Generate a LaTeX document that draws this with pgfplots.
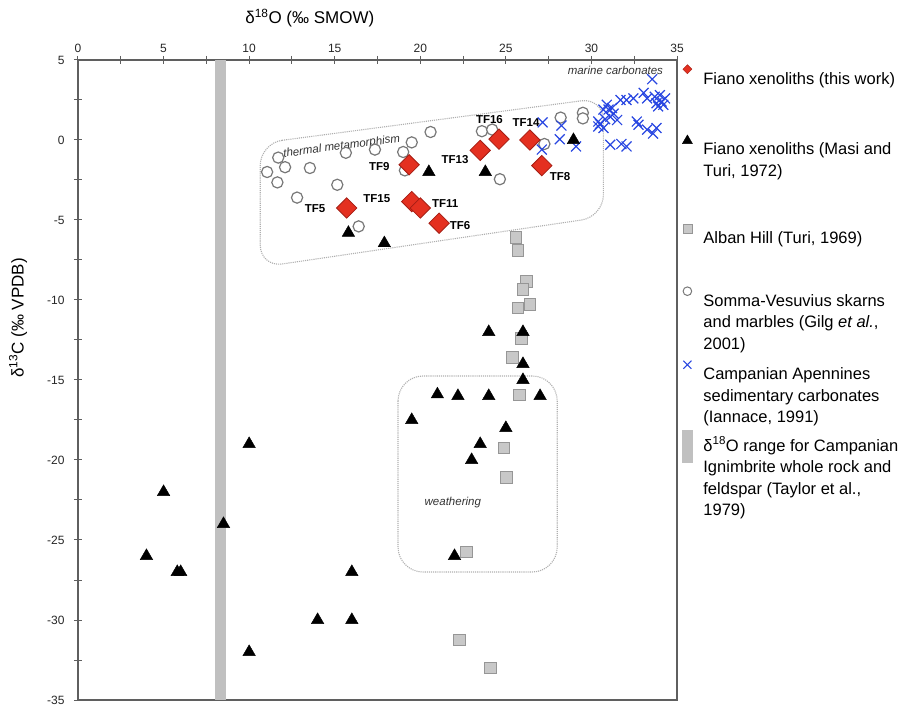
\documentclass[border=0pt]{standalone}
\usepackage{fontspec}
\setmainfont{Liberation Sans}
\usepackage{pgfplots}
\pgfplotsset{compat=1.18}

\definecolor{axgray}{RGB}{95,95,95}
\definecolor{bandgray}{RGB}{192,192,192}
\definecolor{sqfill}{RGB}{200,200,200}
\definecolor{sqdraw}{RGB}{150,150,150}
\definecolor{circdraw}{RGB}{120,120,120}
\definecolor{crossblue}{RGB}{40,70,225}
\definecolor{dred}{RGB}{228,48,32}
\definecolor{dreddraw}{RGB}{165,30,20}
\definecolor{boxgray}{RGB}{175,175,175}

\newcommand{\lentry}[2]{\begin{tabular}[t]{@{}l@{}}#1\\[#2]\end{tabular}}

\begin{document}
\begin{tikzpicture}
\useasboundingbox (-78pt,-9pt) rectangle (826pt,700pt);
\begin{axis}[
  at={(0pt,0pt)}, anchor=south west,
  scale only axis, width=599pt, height=640pt,
  xmin=0, xmax=35, ymin=-35, ymax=5,
  xtick={0,5,...,35}, ytick={-35,-30,...,5},
  minor x tick num=1, minor y tick num=1,
  xtick pos=right, xticklabel pos=right, ytick pos=left,
  tick align=center,
  major tick length=8pt, minor tick length=8pt,
  axis line style={axgray, line width=1.2pt},
  every tick/.style={axgray, line width=1pt},
  tick label style={font=\fontsize{12}{14}\selectfont, text=black!85},
  yticklabel style={xshift=-6pt},
  /pgf/number format/assume math mode=true,
  xlabel={δ\textsuperscript{18}O (‰ SMOW)},
  ylabel={δ\textsuperscript{13}C (‰ VPDB)},
  xlabel style={font=\fontsize{17}{20}\selectfont, at={(axis description cs:0.387,1.066)}, anchor=center},
  ylabel style={font=\fontsize{17}{20}\selectfont, at={(axis description cs:-0.1,0.597)}, anchor=center},
  legend style={at={(axis description cs:1,1)}, anchor=north west, xshift=5pt, yshift=0pt,
    draw=none, fill=none, inner sep=0pt, row sep=0pt, column sep=9pt,
    nodes={inner sep=0pt, outer sep=0pt, text depth=, text height=}, cells={anchor=north west},
    font=\fontsize{16.5}{21.5}\selectfont},
]
% Campanian Ignimbrite band
\addplot[draw=none, fill=bandgray, forget plot] coordinates {(8.0,-35) (8.65,-35) (8.65,5) (8.0,5)} -- cycle;

% dashed fields
\draw[boxgray, densely dotted, line width=1.1pt, rounded corners=22pt]
  (axis cs:10.65,-0.2) -- (axis cs:30.7,2.63) -- (axis cs:30.7,-4.8) -- (axis cs:10.65,-7.95) -- cycle;
\draw[boxgray, densely dotted, line width=1.1pt, rounded corners=25pt]
  (axis cs:18.7,-14.75) rectangle (axis cs:28,-27);

% Alban Hill
\addplot[only marks, forget plot, mark=square*, mark size=5.8pt, mark options={fill=sqfill, draw=sqdraw, line width=1pt}] coordinates {
(25.6,-6.1) (25.7,-6.9) (26.2,-8.85) (26.0,-9.35) (26.4,-10.3) (25.7,-10.5) (25.9,-12.4) (25.4,-13.6) (25.8,-15.95) (24.9,-19.25) (25.05,-21.1) (22.7,-25.75) (22.3,-31.25) (24.1,-33.0)
};
% Somma-Vesuvius
\addplot[only marks, forget plot, mark=*, mark size=5.6pt, mark options={fill=white, draw=circdraw, line width=1.2pt}] coordinates {
(20.6,0.5) (19.5,-0.15) (17.35,-0.6) (15.65,-0.8) (19.0,-0.75) (11.7,-1.1) (12.1,-1.7) (11.05,-2.0) (13.55,-1.75) (11.65,-2.65) (15.15,-2.8) (12.8,-3.6) (19.1,-1.9) (16.4,-5.4) (23.6,0.55) (24.2,0.65) (24.65,-2.45) (27.25,-0.25) (28.2,1.4) (29.5,1.7) (29.5,1.35)
};
% Campanian Apennines
\addplot[only marks, forget plot, mark=x, mark size=7pt, mark options={draw=crossblue, line width=1.2pt}] coordinates {
(27.15,1.1) (28.25,0.9) (28.15,0.05) (27.1,-0.6) (29.1,-0.4) (33.55,3.8)
(30.4,1.15) (30.4,0.85) (30.7,0.75) (31.0,1.9) (31.3,1.65) (31.1,1.45) (31.5,1.25) (30.9,2.2)
(31.7,2.5) (32.05,2.5) (32.45,2.6) (33.05,2.95) (33.25,2.6) (33.7,2.7) (34.0,2.8) (34.1,2.4)
(33.8,2.3) (34.3,2.6) (32.65,1.15) (32.75,0.95) (33.25,0.65) (33.6,0.4) (33.8,0.75)
(31.1,-0.3) (31.75,-0.25) (32.05,-0.4) (30.5,1.0) (30.8,1.3) (31.2,2.0) (30.7,1.9) (33.9,2.1) (34.2,2.2)
};
% Masi and Turi
\addplot[only marks, forget plot, mark=triangle*, mark size=7.2pt, mark options={fill=black, draw=black}] coordinates {
(20.5,-2.0) (15.8,-5.8) (17.9,-6.45) (23.8,-2.0) (28.95,0.0)
(24.0,-12.0) (26.0,-12.0) (26.0,-14.0) (26.0,-15.0) (21.0,-15.9) (22.2,-16.0) (24.0,-16.0) (27.0,-16.0)
(19.5,-17.5) (25.0,-18.0) (23.5,-19.0) (23.0,-20.0) (22.0,-26.0)
(10.0,-19.0) (5.0,-22.0) (8.5,-24.0) (4.0,-26.0) (5.8,-27.0) (6.0,-27.0) (16.0,-27.0) (14.0,-30.0) (16.0,-30.0) (10.0,-32.0)
};
% Fiano xenoliths (this work)
\addplot[only marks, forget plot, mark=square*, mark size=7.2pt, mark options={rotate=45, fill=dred, draw=dreddraw, line width=0.8pt}] coordinates {
(15.7,-4.25) (19.35,-1.55) (19.5,-3.85) (20.0,-4.25) (21.1,-5.2) (23.5,-0.65) (24.6,0.05) (26.4,0.0) (27.1,-1.6)
};

% sample labels
\begin{scope}[every node/.style={font=\fontsize{11.5}{13}\selectfont\bfseries}]
\node at (axis cs:13.85,-4.27) {TF5};
\node at (axis cs:17.61,-1.63) {TF9};
\node at (axis cs:17.46,-3.64) {TF15};
\node at (axis cs:21.45,-4.0) {TF11};
\node at (axis cs:22.33,-5.35) {TF6};
\node at (axis cs:22.03,-1.21) {TF13};
\node at (axis cs:24.04,1.25) {TF16};
\node at (axis cs:26.18,1.08) {TF14};
\node at (axis cs:28.17,-2.29) {TF8};
\end{scope}
\begin{scope}[every node/.style={font=\fontsize{11.5}{13}\selectfont\itshape, text=black!80}]
\node[rotate=7.5] at (axis cs:15.41,-0.42) {thermal metamorphism};
\node at (axis cs:31.4,4.375) {marine carbonates};
\node at (axis cs:21.9,-22.67) {weathering};
\end{scope}

% legend
\addlegendimage{legend image code/.code={\draw[mark=square*, mark size=3.2pt, mark options={rotate=45, fill=dred, draw=dreddraw}] plot coordinates {(5pt,0pt)}; \path[draw=none,fill=none] (0pt,9pt) rectangle (12pt,-6pt);}}
\addlegendentry{\lentry{Fiano xenoliths (this work)}{40pt}}
\addlegendimage{legend image code/.code={\draw[black, fill=black, mark=triangle*, mark size=5.8pt] plot coordinates {(5pt,-1pt)}; \path[draw=none,fill=none] (0pt,9pt) rectangle (12pt,-6pt);}}
\addlegendentry{\lentry{Fiano xenoliths (Masi and\\Turi, 1972)}{37pt}}
\addlegendimage{legend image code/.code={\draw[mark=square*, mark size=4.5pt, mark options={fill=sqfill, draw=sqdraw, line width=0.8pt}] plot coordinates {(5pt,0pt)}; \path[draw=none,fill=none] (0pt,9pt) rectangle (12pt,-6pt);}}
\addlegendentry{\lentry{Alban Hill (Turi, 1969)}{32pt}}
\addlegendimage{legend image code/.code={\draw[mark=*, mark size=4.3pt, mark options={fill=white, draw=circdraw, line width=1pt}] plot coordinates {(5pt,0pt)}; \path[draw=none,fill=none] (0pt,9pt) rectangle (12pt,-6pt);}}
\addlegendentry{\lentry{Somma-Vesuvius skarns\\and marbles (Gilg \textit{et al.},\\2001)}{0pt}}
\addlegendimage{legend image code/.code={\draw[mark=x, mark size=5.7pt, mark options={draw=crossblue, line width=1.1pt}] plot coordinates {(5pt,0pt)}; \path[draw=none,fill=none] (0pt,9pt) rectangle (12pt,-6pt);}}
\addlegendentry{\lentry{Campanian Apennines\\sedimentary carbonates\\(Iannace, 1991)}{-2pt}}
\addlegendimage{legend image code/.code={\fill[bandgray] (0pt,6pt) rectangle (10pt,-26pt); \path[draw=none,fill=none] (0pt,9pt) rectangle (12pt,-6pt);}}
\addlegendentry{\lentry{δ\textsuperscript{18}O range for Campanian\\Ignimbrite whole rock and\\feldspar (Taylor et al.,\\1979)}{0pt}}
\end{axis}
\end{tikzpicture}
\end{document}
